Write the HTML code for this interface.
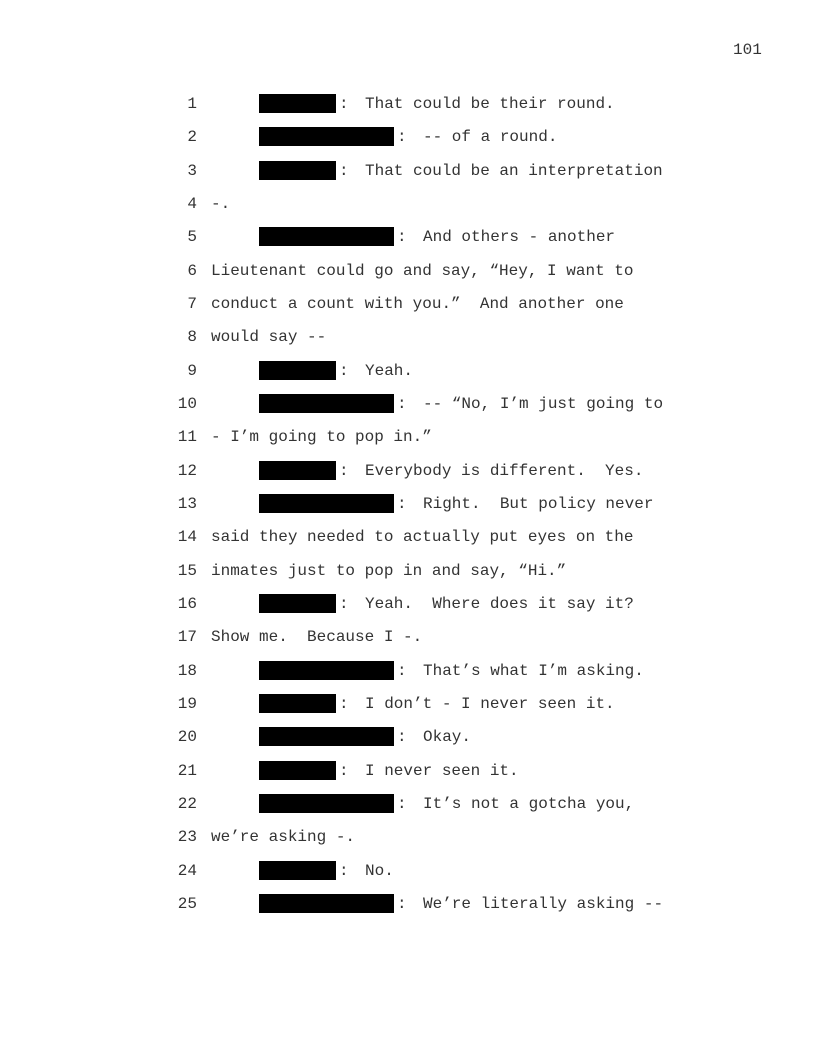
<!DOCTYPE html>
<html><head><meta charset="utf-8"><style>
html,body{margin:0;padding:0;background:#fff;}
body{width:816px;height:1056px;position:relative;overflow:hidden;font-family:"Liberation Mono","Courier New",monospace;font-size:16px;color:#333;}
.l{position:absolute;left:0;width:816px;height:20px;line-height:20px;white-space:pre;}
.n{position:absolute;right:619px;}
.b{position:absolute;background:#000;top:0;height:19px;left:259px;}
.s{width:77px}.g{width:135px}
.c{position:absolute;}
.t{position:absolute;}
</style></head><body>
<div style="position:absolute;left:733px;top:40px;line-height:20px;">101</div>

<div class="l" style="top:94px"><span class="n">1</span><span class="b s"></span><span class="c" style="left:339px">:</span><span class="t" style="left:365px">That could be their round.</span></div>
<div class="l" style="top:127.3px"><span class="n">2</span><span class="b g"></span><span class="c" style="left:397px">:</span><span class="t" style="left:423px">-- of a round.</span></div>
<div class="l" style="top:160.7px"><span class="n">3</span><span class="b s"></span><span class="c" style="left:339px">:</span><span class="t" style="left:365px">That could be an interpretation</span></div>
<div class="l" style="top:194px"><span class="n">4</span><span class="t" style="left:211px">-.</span></div>
<div class="l" style="top:227.3px"><span class="n">5</span><span class="b g"></span><span class="c" style="left:397px">:</span><span class="t" style="left:423px">And others - another</span></div>
<div class="l" style="top:260.7px"><span class="n">6</span><span class="t" style="left:211px">Lieutenant could go and say, “Hey, I want to</span></div>
<div class="l" style="top:294px"><span class="n">7</span><span class="t" style="left:211px">conduct a count with you.”  And another one</span></div>
<div class="l" style="top:327.3px"><span class="n">8</span><span class="t" style="left:211px">would say --</span></div>
<div class="l" style="top:360.7px"><span class="n">9</span><span class="b s"></span><span class="c" style="left:339px">:</span><span class="t" style="left:365px">Yeah.</span></div>
<div class="l" style="top:394px"><span class="n">10</span><span class="b g"></span><span class="c" style="left:397px">:</span><span class="t" style="left:423px">-- “No, I’m just going to</span></div>
<div class="l" style="top:427.3px"><span class="n">11</span><span class="t" style="left:211px">- I’m going to pop in.”</span></div>
<div class="l" style="top:460.7px"><span class="n">12</span><span class="b s"></span><span class="c" style="left:339px">:</span><span class="t" style="left:365px">Everybody is different.  Yes.</span></div>
<div class="l" style="top:494px"><span class="n">13</span><span class="b g"></span><span class="c" style="left:397px">:</span><span class="t" style="left:423px">Right.  But policy never</span></div>
<div class="l" style="top:527.3px"><span class="n">14</span><span class="t" style="left:211px">said they needed to actually put eyes on the</span></div>
<div class="l" style="top:560.7px"><span class="n">15</span><span class="t" style="left:211px">inmates just to pop in and say, “Hi.”</span></div>
<div class="l" style="top:594px"><span class="n">16</span><span class="b s"></span><span class="c" style="left:339px">:</span><span class="t" style="left:365px">Yeah.  Where does it say it?</span></div>
<div class="l" style="top:627.3px"><span class="n">17</span><span class="t" style="left:211px">Show me.  Because I -.</span></div>
<div class="l" style="top:660.7px"><span class="n">18</span><span class="b g"></span><span class="c" style="left:397px">:</span><span class="t" style="left:423px">That’s what I’m asking.</span></div>
<div class="l" style="top:694px"><span class="n">19</span><span class="b s"></span><span class="c" style="left:339px">:</span><span class="t" style="left:365px">I don’t - I never seen it.</span></div>
<div class="l" style="top:727.3px"><span class="n">20</span><span class="b g"></span><span class="c" style="left:397px">:</span><span class="t" style="left:423px">Okay.</span></div>
<div class="l" style="top:760.7px"><span class="n">21</span><span class="b s"></span><span class="c" style="left:339px">:</span><span class="t" style="left:365px">I never seen it.</span></div>
<div class="l" style="top:794px"><span class="n">22</span><span class="b g"></span><span class="c" style="left:397px">:</span><span class="t" style="left:423px">It’s not a gotcha you,</span></div>
<div class="l" style="top:827.3px"><span class="n">23</span><span class="t" style="left:211px">we’re asking -.</span></div>
<div class="l" style="top:860.7px"><span class="n">24</span><span class="b s"></span><span class="c" style="left:339px">:</span><span class="t" style="left:365px">No.</span></div>
<div class="l" style="top:894px"><span class="n">25</span><span class="b g"></span><span class="c" style="left:397px">:</span><span class="t" style="left:423px">We’re literally asking --</span></div>
</body></html>
